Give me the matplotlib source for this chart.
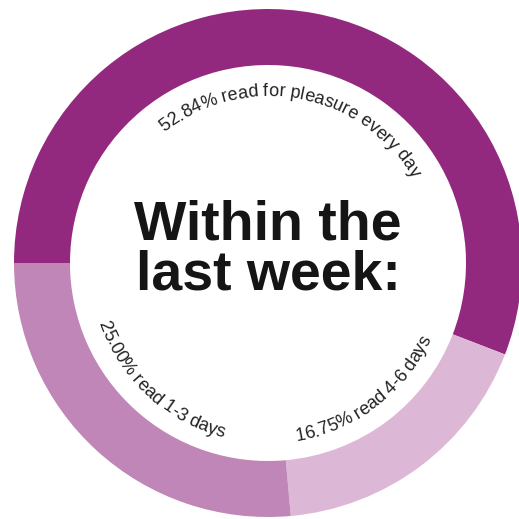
#!/usr/bin/env python

import numpy as np
from matplotlib import pyplot as plt
from matplotlib import font_manager
from matplotlib import ft2font

# share of respondents by how often they read for pleasure
labels = ['52.84% read for pleasure every day',
          '16.75% read 4-6 days',
          '25.00% read 1-3 days']
shares = [52.84, 16.75, 25.00]
colours = ['#93297f', '#ddb7d6', '#c086b7']
title_lines = ['Within the', 'last week:']

DPI = 100
SIZE = 519
cx, cy = 268., 256.
r_out, ring = 254., 56.
label_size = 13.0

fig = plt.figure(figsize=(SIZE / DPI, SIZE / DPI), dpi=DPI)
ax = fig.add_axes([0, 0, 1, 1])
wedges, _ = ax.pie(shares, colors=colours, startangle=180, counterclock=False,
                   radius=r_out, center=(cx, cy),
                   wedgeprops=dict(width=ring, linewidth=0))
ax.set_xlim(0, SIZE)
ax.set_ylim(0, SIZE)
ax.set_aspect('equal')
ax.axis('off')

# glyph advances so letters can be spaced along an arc
fp = font_manager.FontProperties(family='Liberation Sans')
font = ft2font.FT2Font(font_manager.findfont(fp))
font.set_size(label_size, DPI)
try:
    no_hint = ft2font.LoadFlags.NO_HINTING
except AttributeError:
    no_hint = ft2font.LOAD_NO_HINTING


def advances(s):
    return np.array([font.load_char(ord(c), flags=no_hint).linearHoriAdvance / 65536.
                     for c in s])


def arc_text(s, mid_deg, radius, top):
    adv = advances(s)
    pos = np.cumsum(adv) - adv / 2. - adv.sum() / 2.
    for c, p in zip(s, pos):
        if c == ' ':
            continue
        if top:
            th = np.radians(mid_deg) - p / radius
            rot = np.degrees(th) - 90
        else:
            th = np.radians(mid_deg) + p / radius
            rot = np.degrees(th) + 90
        ax.text(cx + radius * np.cos(th), cy + radius * np.sin(th), c,
                rotation=rot, rotation_mode='anchor', ha='center', va='baseline',
                family='Liberation Sans', fontsize=label_size, color='#222222')


for w, lab in zip(wedges, labels):
    mid = (w.theta1 + w.theta2) / 2.
    mid_up = ((mid + 180) % 360) - 180
    if 0 < mid_up < 180:
        arc_text(lab, mid, 167., True)
    else:
        arc_text(lab, mid, 180., False)

ax.text(cx, cy + 23, title_lines[0], ha='center', va='baseline',
        family='Liberation Sans', fontweight='bold', fontsize=40, color='#151515')
ax.text(cx, cy - 27, title_lines[1], ha='center', va='baseline',
        family='Liberation Sans', fontweight='bold', fontsize=40, color='#151515')

plt.savefig('out.png', dpi=DPI)
